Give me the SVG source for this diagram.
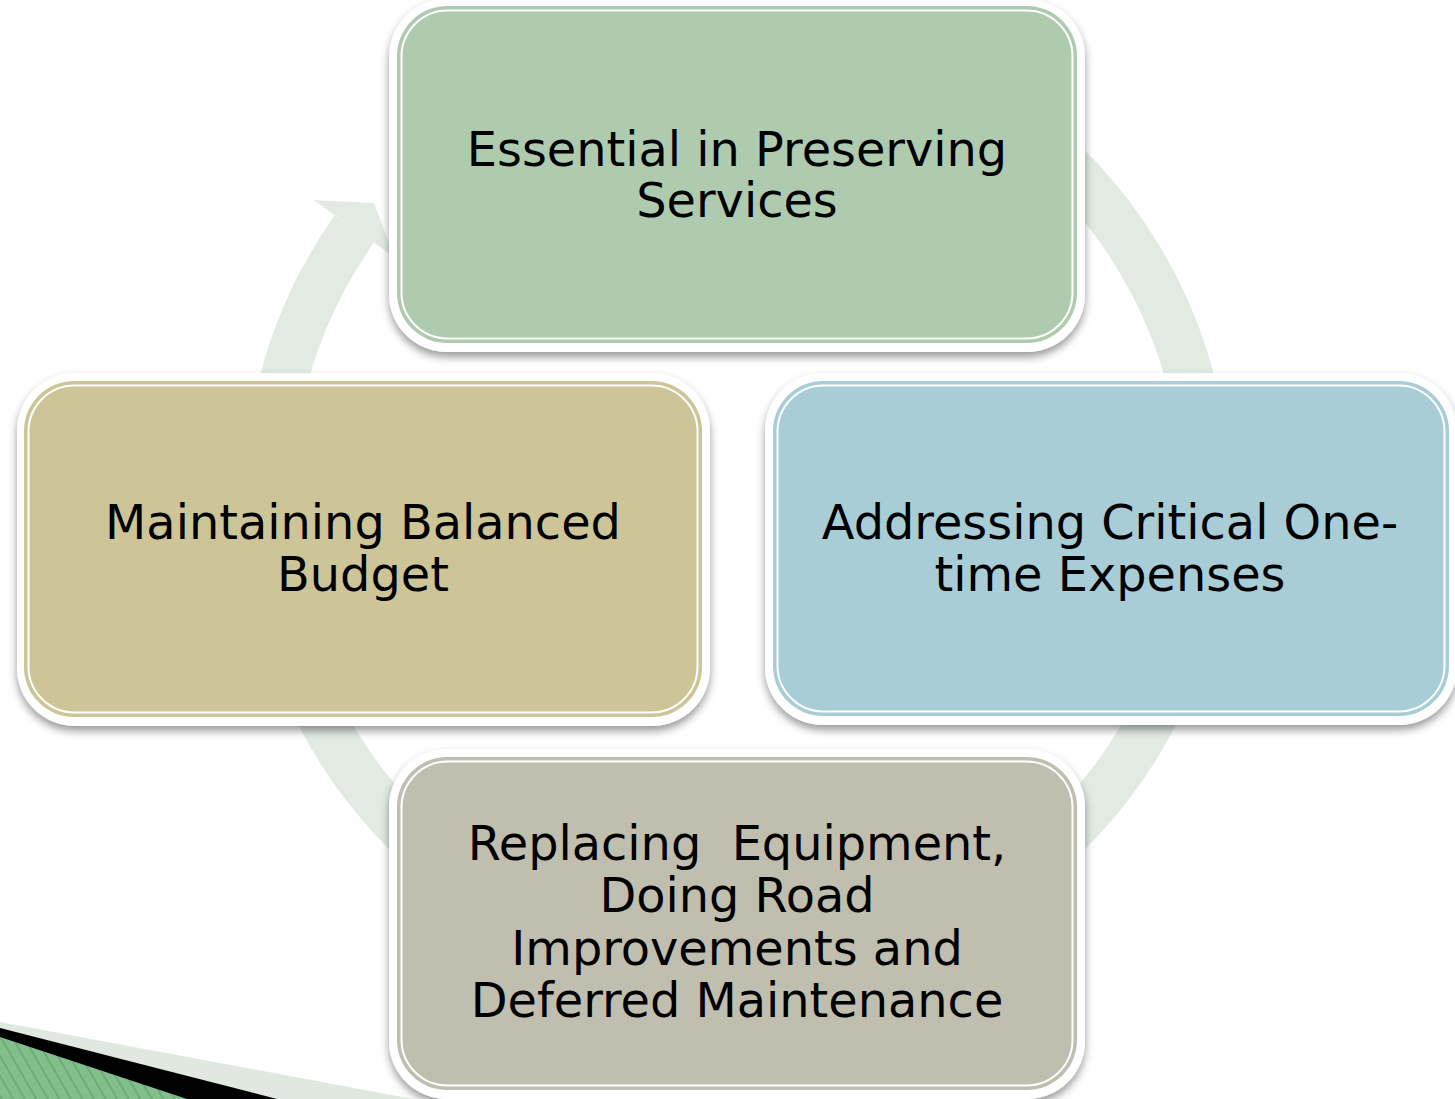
<svg xmlns="http://www.w3.org/2000/svg" width="1455" height="1099" viewBox="0 0 1455 1099">
  <style>
    .frame { fill: #ffffff; filter: url(#shadow); }
    .inner { fill: none; stroke: #ffffff; stroke-width: 2; }
    .label { font-family: "DejaVu Sans", Verdana, sans-serif; font-size: 47.8px; fill: #000000; text-anchor: middle; }
    .ring { fill: none; stroke: #e1ebe2; stroke-width: 48; }
  </style>
  <defs>
    <filter id="shadow" x="-10%" y="-10%" width="120%" height="125%">
      <feDropShadow dx="0" dy="5" stdDeviation="4" flood-color="#000000" flood-opacity="0.4"/>
    </filter>
    <pattern id="stripes" width="10" height="10" patternUnits="userSpaceOnUse" patternTransform="rotate(-30)">
      <rect width="10" height="10" fill="#82bf8d"/>
      <line x1="2" y1="0" x2="2" y2="10" stroke="#6fab7a" stroke-width="2"/>
    </pattern>
  </defs>

  <rect width="1455" height="1099" fill="#ffffff"/>

  <!-- corner decoration, bottom left -->
  <g id="corner">
    <polygon points="0,1022 413,1099 0,1099" fill="#dfe9e0"/>
    <polygon points="0,1028 277,1099 0,1099" fill="#000000"/>
    <polygon points="0,1037 187,1099 0,1099" fill="url(#stripes)"/>
  </g>

  <!-- cycle arrow behind the boxes -->
  <g id="connectors">
    <path class="ring" d="M 818.4 38.1 A 469 469 0 1 1 354.3 229.0"/>
    <polygon points="313.5,200.0 374.1,202.9 394.3,257.2" fill="#e1ebe2"/>
  </g>

  <!-- top node -->
  <g id="node-preserving">
    <rect class="frame" x="389" y="-1" width="696" height="353" rx="58"/>
    <rect x="397" y="6" width="680" height="337" rx="50" fill="#afcbaf"/>
    <rect class="inner" x="401.5" y="10.5" width="671" height="328" rx="46"/>
    <text class="label" x="737"><tspan x="737" y="166">Essential in Preserving</tspan><tspan x="737" y="217">Services</tspan></text>
  </g>

  <!-- left node -->
  <g id="node-budget">
    <rect class="frame" x="17" y="373" width="693" height="353" rx="58"/>
    <rect x="24" y="381" width="678" height="336" rx="50" fill="#cdc597"/>
    <rect class="inner" x="28.5" y="385.5" width="669" height="327" rx="46"/>
    <text class="label" x="363"><tspan x="363" y="539">Maintaining Balanced</tspan><tspan x="363" y="591">Budget</tspan></text>
  </g>

  <!-- right node -->
  <g id="node-expenses">
    <rect class="frame" x="765" y="373" width="692" height="352" rx="58"/>
    <rect x="773" y="381" width="676" height="335" rx="50" fill="#a8cdd6"/>
    <rect class="inner" x="777.5" y="385.5" width="667" height="326" rx="46"/>
    <text class="label" x="1110"><tspan x="1110" y="539">Addressing Critical One-</tspan><tspan x="1110" y="591">time Expenses</tspan></text>
  </g>

  <!-- bottom node -->
  <g id="node-maintenance">
    <rect class="frame" x="389" y="749" width="696" height="350" rx="58"/>
    <rect x="397" y="757" width="680" height="333" rx="50" fill="#c0beae"/>
    <rect class="inner" x="401.5" y="761.5" width="671" height="324" rx="46"/>
    <text class="label" x="737" xml:space="preserve"><tspan x="737" y="860">Replacing  Equipment,</tspan><tspan x="737" y="912">Doing Road</tspan><tspan x="737" y="965">Improvements and</tspan><tspan x="737" y="1017">Deferred Maintenance</tspan></text>
  </g>
</svg>
